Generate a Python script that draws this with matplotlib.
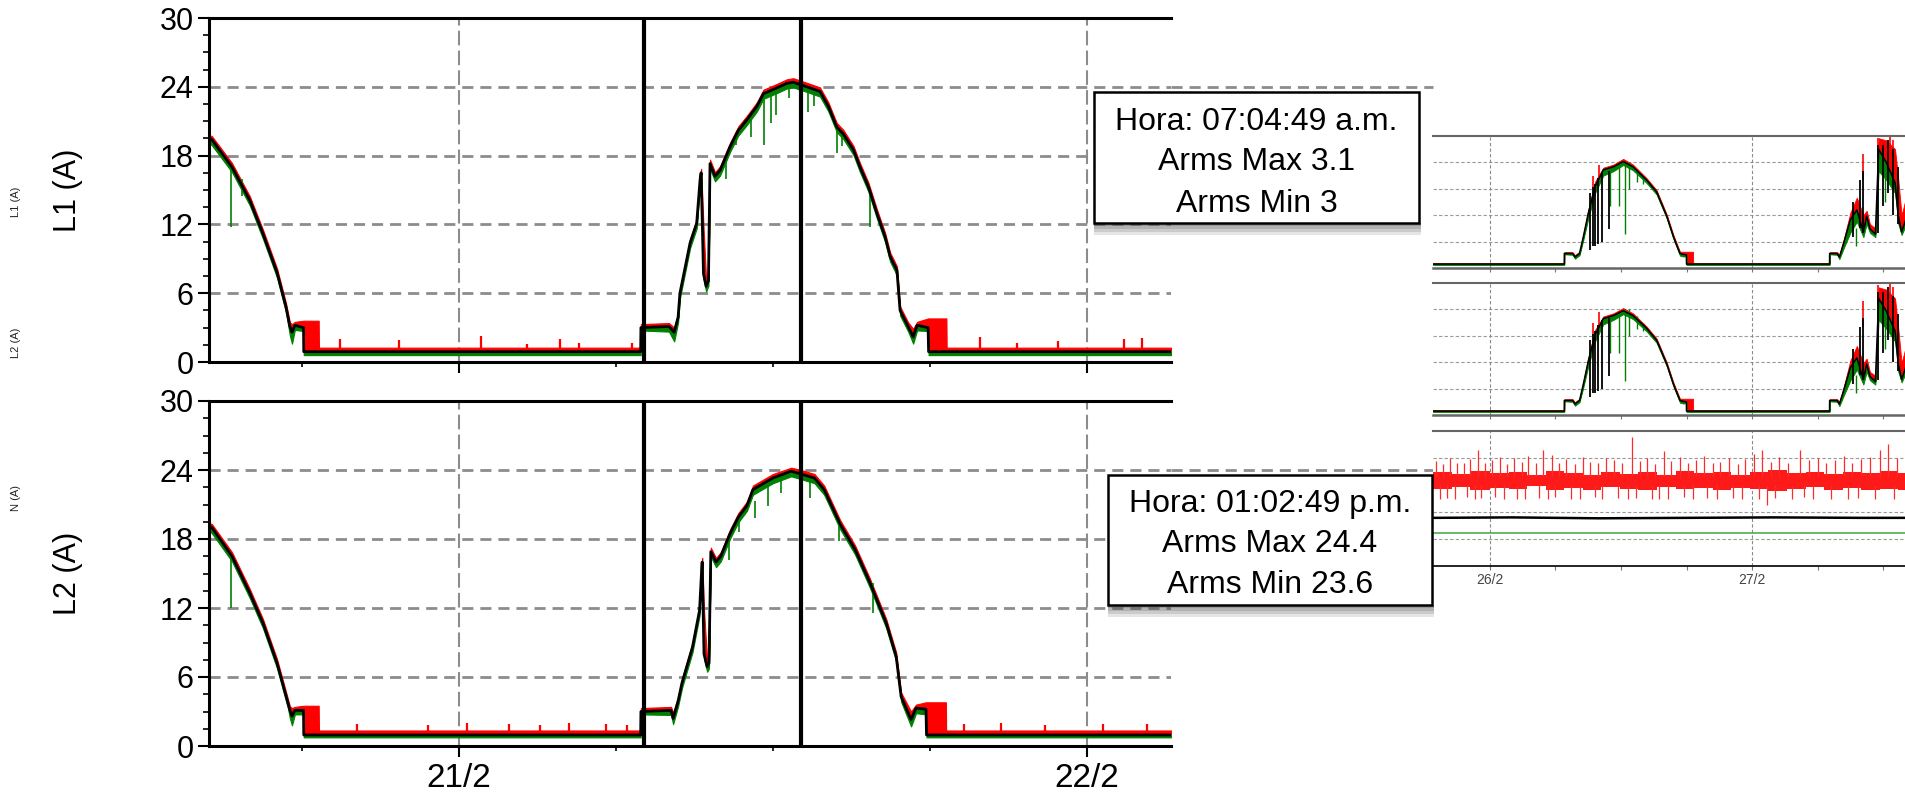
import numpy as np
import matplotlib
matplotlib.use('Agg')
import matplotlib.pyplot as plt
from matplotlib.patches import Rectangle

plt.rcParams['font.family'] = ['Liberation Sans', 'DejaVu Sans']

# ---- main view: hours relative to 21/2 00:00 ----
day_ticks = [0, 24]
day_labels = ['21/2', '22/2']
cursor_h = [7 + 4 / 60 + 49 / 3600, 13 + 2 / 60 + 49 / 3600]

l1_h = [-9.55, -9.44, -8.67, -7.99, -7.49, -6.95, -6.61, -6.46, -6.38, -6.27,
        -5.94, -5.93, -5.36, -5.35, 6.94, 6.95, 8.02, 8.22, 8.37, 8.44,
        8.83, 9.08, 9.21, 9.25, 9.34, 9.44, 9.53, 9.59, 9.78, 9.97,
        10.36, 10.67, 10.99, 11.38, 11.63, 12.14, 12.52, 12.77, 13.29, 13.79,
        14.11, 14.43, 14.68, 15.07, 15.32, 15.64, 15.96, 16.28, 16.47, 16.73,
        16.85, 17.16, 17.35, 17.50, 17.92, 17.94, 18.62, 18.63, 27.2]
l1_avg = [19.5, 19.4, 17.0, 14.1, 11.2, 7.8, 4.8, 3.1, 2.6, 3.2,
          3.0, 0.9, 0.9, 0.9, 0.9, 3.0, 3.1, 2.6, 3.9, 6.0,
          10.4, 12.1, 15.9, 16.5, 7.7, 6.6, 7.1, 17.3, 16.2, 16.7,
          18.8, 20.2, 21.1, 22.3, 23.4, 23.9, 24.3, 24.4, 24.0, 23.6,
          22.3, 20.5, 19.9, 18.5, 17.0, 15.3, 13.0, 10.9, 9.2, 8.0,
          4.5, 3.1, 2.2, 3.2, 3.0, 0.9, 0.9, 0.9, 0.9]
l1_max = [19.8, 19.7, 17.35, 14.45, 11.55, 8.15, 5.15, 3.45, 3.3, 3.5,
          3.6, 3.6, 3.6, 1.25, 1.25, 3.3, 3.4, 3.0, 4.25, 6.35,
          10.75, 12.45, 16.25, 16.85, 11.8, 7.2, 7.8, 17.65, 16.55, 17.05,
          19.15, 20.55, 21.45, 22.65, 23.75, 24.25, 24.65, 24.75, 24.35, 23.95,
          22.65, 20.85, 20.25, 18.85, 17.35, 15.65, 13.35, 11.25, 9.55, 8.35,
          4.85, 3.45, 2.9, 3.5, 3.8, 3.8, 3.8, 1.25, 1.25]
l1_min = [19.1, 18.9, 16.55, 13.65, 10.75, 7.35, 4.35, 2.3, 1.6, 2.8,
          2.7, 0.6, 0.6, 0.6, 0.6, 2.75, 2.65, 1.8, 3.45, 5.55,
          9.95, 11.65, 15.45, 16.05, 7.25, 6.15, 6.65, 16.85, 15.75, 16.25,
          18.35, 19.75, 20.65, 21.85, 22.95, 23.45, 23.85, 23.95, 23.55, 23.15,
          21.85, 20.05, 19.45, 18.05, 16.55, 14.85, 12.55, 10.45, 8.75, 7.55,
          4.05, 2.65, 1.6, 2.75, 2.7, 0.6, 0.6, 0.6, 0.6]
l1_grn_h = [-8.71, -8.3, 10.2, 10.6, 11.15, 11.65, 11.92, 12.1, 12.6, 13.35, 13.55, 14.45, 14.62, 15.72]
l1_grn_lo = [11.8, 14.5, 16.0, 18.9, 19.6, 18.9, 20.8, 21.5, 23.0, 21.8, 22.3, 18.2, 18.8, 11.8]
l1_grn_hi = [16.9, 16.0, 17.6, 20.0, 21.5, 23.2, 23.6, 23.8, 24.2, 23.9, 23.7, 20.5, 20.0, 14.8]
l1_red_h = [-4.55, -2.3, 0.83, 2.6, 3.86, 4.6, 6.6, 19.9, 21.3, 22.9, 25.4, 26.1]
l1_red_hi = [2.0, 1.9, 2.3, 1.6, 2.0, 1.7, 1.7, 2.2, 1.7, 1.8, 2.0, 2.1]

l2_h = [-9.55, -9.44, -8.67, -7.99, -7.49, -6.95, -6.53, -6.46, -6.38, -6.27,
        -5.94, -5.93, -5.36, -5.35, 6.94, 6.95, 8.10, 8.18, 8.37, 8.52,
        8.92, 9.19, 9.27, 9.29, 9.36, 9.48, 9.55, 9.62, 9.82, 10.00,
        10.36, 10.67, 11.00, 11.23, 11.99, 12.69, 13.00, 13.58, 13.95, 14.56,
        15.13, 15.70, 16.32, 16.70, 16.89, 17.27, 17.46, 17.84, 17.86, 18.60,
        18.61, 27.2]
l2_avg = [19.1, 19.0, 16.5, 13.3, 10.7, 7.2, 3.7, 3.1, 2.6, 3.1,
          3.1, 0.96, 0.96, 0.96, 0.96, 3.0, 3.1, 2.4, 3.9, 5.5,
          8.6, 11.8, 15.3, 16.0, 8.0, 6.9, 7.2, 16.9, 16.0, 16.5,
          18.5, 19.9, 20.9, 22.3, 23.3, 23.9, 23.7, 23.3, 22.3, 19.3,
          17.1, 14.2, 10.7, 7.8, 4.3, 2.3, 3.3, 3.2, 0.96, 0.96,
          0.96, 0.96]
l2_max = [19.4, 19.3, 16.85, 13.65, 11.05, 7.55, 4.05, 3.45, 3.3, 3.4,
          3.5, 3.5, 3.5, 1.35, 1.35, 3.3, 3.4, 2.9, 4.25, 5.85,
          8.95, 12.15, 15.65, 16.35, 11.8, 7.4, 7.8, 17.25, 16.35, 16.85,
          18.85, 20.25, 21.25, 22.65, 23.65, 24.2, 24.05, 23.65, 22.65, 19.65,
          17.45, 14.55, 11.05, 8.15, 4.65, 3.0, 3.6, 3.8, 3.8, 3.8,
          1.35, 1.35]
l2_min = [18.7, 18.5, 16.05, 12.85, 10.25, 6.75, 3.25, 2.4, 1.8, 2.75,
          2.75, 0.75, 0.75, 0.75, 0.75, 2.75, 2.7, 1.9, 3.45, 5.05,
          8.15, 11.35, 14.85, 15.55, 7.55, 6.45, 6.75, 16.45, 15.55, 16.05,
          18.05, 19.45, 20.45, 21.85, 22.85, 23.45, 23.25, 22.85, 21.85, 18.85,
          16.65, 13.75, 10.25, 7.35, 3.85, 1.7, 2.85, 2.75, 0.75, 0.75,
          0.75, 0.75]
l2_grn_h = [-8.71, 10.3, 10.7, 11.3, 11.8, 12.3, 13.4, 14.5, 15.8]
l2_grn_lo = [12.0, 16.2, 18.6, 19.8, 20.9, 22.0, 21.6, 17.8, 11.6]
l2_grn_hi = [16.5, 18.2, 19.8, 21.3, 23.0, 23.5, 23.5, 19.8, 14.2]
l2_red_h = [-3.9, -1.2, 0.3, 1.9, 3.1, 4.2, 5.6, 6.4, 19.3, 20.7, 22.4, 24.6, 26.3]
l2_red_hi = [1.9, 1.8, 2.0, 1.9, 1.8, 2.0, 1.9, 1.8, 1.9, 2.0, 1.8, 1.9, 1.9]

# ---- overview panel: hours relative to 26/2 00:00 ----
r_day_labels = ['26/2', '27/2']
r_h = [-5.22, 6.8, 6.81, 7.57, 7.78, 8.2, 8.55, 9.0, 9.62, 10.38,
       11.3, 12.2, 13.1, 14.35, 15.26, 16.2, 16.8, 17.4, 17.7, 17.99,
       18.0, 18.6, 18.61, 31.1, 31.11, 31.8, 32.0, 32.4, 33.0, 33.6,
       34.2, 34.5, 34.8, 35.3, 35.6, 36.3, 37.1, 37.4, 37.7, 38.5, 43.0]
r1_avg = [0.9, 0.9, 3.3, 3.3, 2.5, 3.3, 7.1, 12.4, 18.5, 22.3,
          23.0, 24.2, 23.0, 20.0, 17.3, 11.7, 7.1, 3.3, 3.1, 3.0,
          0.9, 0.9, 0.9, 0.9, 3.3, 3.3, 2.5, 5.7, 10.9, 13.2,
          8.2, 11.8, 8.9, 7.7, 27.0, 24.0, 19.4, 11.8, 8.2, 14.0, 14.0]
r1_max = [1.1, 1.1, 3.6, 3.6, 2.9, 3.7, 7.6, 13.2, 19.6, 22.8,
          23.5, 24.8, 23.5, 20.4, 17.7, 12.1, 7.5, 3.7, 3.7, 3.7,
          3.7, 3.7, 1.1, 1.1, 3.6, 3.6, 2.9, 6.5, 12.5, 16.0,
          12.0, 13.0, 10.0, 9.0, 29.5, 29.0, 27.0, 20.0, 12.0, 20.0, 20.0]
r1_min = [0.7, 0.7, 3.1, 3.0, 2.1, 2.9, 6.4, 11.2, 17.0, 21.0,
          22.0, 23.4, 22.2, 19.3, 16.7, 11.2, 6.6, 2.8, 2.6, 2.7,
          0.7, 0.7, 0.7, 0.7, 3.1, 3.0, 2.0, 4.5, 8.0, 10.5,
          7.0, 10.0, 8.0, 7.0, 22.0, 20.0, 17.0, 10.0, 7.5, 12.0, 12.0]
r2_avg = [0.9, 0.9, 3.3, 3.3, 2.5, 3.3, 7.0, 12.2, 18.2, 21.9,
          22.6, 23.7, 22.6, 19.7, 17.0, 11.5, 7.0, 3.3, 3.1, 3.0,
          0.9, 0.9, 0.9, 0.9, 3.3, 3.3, 2.5, 5.6, 10.7, 13.0,
          8.1, 11.6, 8.8, 7.6, 26.5, 23.6, 19.1, 11.6, 8.1, 13.8, 13.8]
r2_max = [1.1, 1.1, 3.6, 3.6, 2.9, 3.7, 7.5, 13.0, 19.3, 22.4,
          23.1, 24.3, 23.1, 20.1, 17.4, 11.9, 7.4, 3.7, 3.7, 3.7,
          3.7, 3.7, 1.1, 1.1, 3.6, 3.6, 2.9, 6.4, 12.3, 15.7,
          11.8, 12.8, 9.8, 8.9, 29.0, 28.5, 26.5, 19.6, 11.8, 19.6, 19.6]
r2_min = [0.7, 0.7, 3.1, 3.0, 2.1, 2.9, 6.3, 11.0, 16.7, 20.6,
          21.6, 22.9, 21.8, 19.0, 16.4, 11.0, 6.5, 2.8, 2.6, 2.7,
          0.7, 0.7, 0.7, 0.7, 3.1, 3.0, 2.0, 4.4, 7.8, 10.3,
          6.9, 9.8, 7.9, 6.9, 21.6, 19.6, 16.7, 9.8, 7.4, 11.8, 11.8]
r_blk_h = [9.16, 9.4, 9.62, 9.92, 10.23, 10.93, 33.27, 33.9, 34.2, 35.57, 36.0, 36.5, 36.95, 37.4]
r_blk_lo = [4.0, 5.0, 5.0, 5.5, 6.0, 8.8, 7.0, 9.0, 8.0, 8.0, 14.0, 17.0, 12.0, 10.0]
r_blk_hi = [17.0, 18.5, 19.0, 20.5, 21.5, 22.0, 15.0, 20.0, 22.0, 28.0, 28.0, 29.0, 27.0, 23.0]
r_red_h = [9.46, 10.0, 34.2, 35.5, 36.6, 36.9]
r_red_lo = [18.0, 20.0, 20.0, 25.0, 25.0, 24.0]
r_red_hi = [21.0, 23.5, 26.0, 29.5, 29.8, 29.0]
r_grn_h = [11.0, 11.8, 12.37, 12.7, 13.5, 14.0, 33.5, 36.2]
r_grn_lo = [14.0, 14.0, 7.8, 18.0, 19.5, 19.0, 5.0, 15.0]
r_grn_hi = [22.5, 23.0, 24.0, 24.0, 22.5, 21.0, 9.0, 22.0]

n_band_h = [-5.22, -3.5, -1.8, 0.0, 1.7, 3.4, 5.1, 6.8, 8.5, 10.2, 11.9, 13.6, 15.3, 17.0,
            18.7, 20.4, 22.1, 23.8, 25.5, 27.2, 28.9, 30.6, 32.3, 34.0, 35.7, 37.4, 43.0]
n_band_hi = [20.8, 20.4, 21.1, 20.6, 20.9, 20.3, 21.2, 20.7, 20.2, 21.0, 20.5, 20.9, 20.3, 21.1,
             20.6, 20.8, 20.2, 20.9, 21.4, 20.7, 21.0, 20.4, 20.9, 20.6, 21.2, 20.7, 20.7]
n_band_lo = [17.2, 17.6, 16.9, 17.4, 17.1, 17.7, 17.0, 17.3, 16.8, 17.5, 17.2, 16.9, 17.6, 17.1,
             17.4, 16.9, 17.3, 17.1, 16.6, 17.2, 17.5, 17.0, 17.3, 16.8, 17.1, 16.9, 16.9]
n_up_h = [-4.9, -4.3, -3.7, -3.0, -2.4, -1.8, -1.1, -0.5, 0.2, 0.9,
          1.6, 2.2, 2.9, 3.5, 4.2, 4.9, 5.7, 6.3, 7.0, 7.8,
          8.5, 9.2, 9.9, 10.6, 11.4, 12.1, 13.0, 13.7, 14.4, 15.1,
          15.9, 16.6, 17.4, 18.1, 18.9, 19.6, 20.4, 21.1, 21.9, 22.7,
          23.4, 24.2, 24.9, 25.7, 26.5, 27.3, 28.4, 29.2, 30.0, 30.8,
          31.6, 32.4, 33.2, 34.0, 34.8, 35.7, 36.5, 37.3, 38.1]
n_up_v = [23.4, 22.6, 24.1, 23.0, 22.8, 23.7, 25.8, 22.9, 23.5, 24.2,
          22.7, 23.9, 23.1, 24.4, 22.8, 25.8, 24.6, 23.0, 23.8, 22.6,
          24.3, 23.2, 22.9, 24.0, 23.5, 22.8, 28.7, 23.4, 24.1, 22.7,
          25.6, 23.3, 24.2, 22.9, 23.6, 24.5, 22.8, 23.2, 24.0, 22.6,
          23.7, 24.9, 25.8, 23.1, 24.3, 22.8, 25.7, 23.5, 24.0, 22.9,
          23.6, 24.4, 23.0, 23.8, 24.2, 25.7, 27.1, 23.9, 24.6]
n_dn_h = [-4.6, -3.9, -3.2, -2.1, -1.4, -0.8, 0.5, 1.3, 2.5, 3.2,
          4.5, 5.3, 6.0, 7.4, 8.2, 9.6, 10.3, 11.7, 12.6, 13.4,
          14.8, 15.5, 16.3, 17.8, 18.6, 19.9, 20.8, 22.3, 23.1, 24.6,
          25.4, 26.1, 27.7, 28.8, 29.6, 31.2, 32.8, 33.7, 35.3, 37.0]
n_dn_v = [14.8, 15.2, 14.9, 15.4, 14.8, 15.1, 15.3, 14.8, 15.0, 14.9,
          15.2, 14.8, 15.4, 15.0, 14.8, 15.3, 14.9, 15.1, 14.8, 15.2,
          14.9, 15.0, 14.8, 15.3, 14.9, 15.1, 14.8, 15.2, 15.0, 14.9,
          13.6, 15.1, 14.8, 15.3, 14.9, 15.0, 14.8, 15.2, 14.9, 14.8]
n_blk_h = [-5.22, 2.0, 10.0, 18.0, 26.0, 34.0, 43.0]
n_blk_v = [10.7, 10.8, 10.6, 10.7, 10.8, 10.7, 10.7]
n_grn_h = [-5.22, 43.0]
n_grn_v = [7.3, 7.3]

box1_lines = ['Hora: 07:04:49 a.m.', 'Arms Max 3.1', 'Arms Min 3']
box2_lines = ['Hora: 01:02:49 p.m.', 'Arms Max 24.4', 'Arms Min 23.6']

RED, GRN, GRAY = '#ff0000', '#008000', '#8c8c8c'
W, H = 1905, 792
fig = plt.figure(figsize=(W / 100, H / 100), dpi=100)


def px_box(l, t, r, b):
    return [l / W, 1 - b / H, (r - l) / W, (b - t) / H]


def draw_main(ax, h, avg, mx, mn, red_h, red_hi, grn_h, grn_lo, grn_hi, base, show_x):
    ax.set_xlim(-9.55, 27.2)
    ax.set_ylim(0, 30)
    for v in (6, 12, 18, 24):
        ax.axhline(v, color=GRAY, lw=2, dashes=(4, 2.5), zorder=1)
    for v in day_ticks:
        ax.axvline(v, color=GRAY, lw=1.5, dashes=(7, 2.5), zorder=1)
    # the 24 A grid line runs on under the info box
    ax.plot([27.2, 37.2], [24, 24], color=GRAY, lw=2, dashes=(4, 2.5), clip_on=False)
    ax.fill_between(h, avg, mx, color=RED, lw=0.8, zorder=2)
    ax.fill_between(h, mn, avg, color=GRN, lw=0.8, zorder=2)
    ax.vlines(red_h, base, red_hi, color=RED, lw=1.6, zorder=2)
    ax.vlines(grn_h, grn_lo, grn_hi, color=GRN, lw=1.2, zorder=2)
    ax.plot(h, avg, color='black', lw=2.0, zorder=3)
    for c in cursor_h:
        ax.axvline(c, color='black', lw=3, zorder=4)
    ax.spines['right'].set_visible(False)
    for s in ('left', 'top', 'bottom'):
        ax.spines[s].set_linewidth(2.2)
        ax.spines[s].set_color('black')
    ax.set_yticks(range(0, 31, 6))
    ax.set_yticks(np.arange(0, 30.1, 1.5), minor=True)
    ax.tick_params(axis='y', which='major', length=8, width=1.5, pad=3, labelsize=22)
    ax.tick_params(axis='y', which='minor', length=4, width=1.2)
    ax.set_xticks(day_ticks)
    ax.set_xticks([-6, 6, 12, 18], minor=True)
    ax.tick_params(axis='x', which='major', length=8, width=1.5, pad=4, labelsize=24)
    ax.tick_params(axis='x', which='minor', length=3.6, width=1.2)
    if show_x:
        ax.set_xticklabels(day_labels)
    else:
        ax.set_xticklabels([])


def draw_right(ax, show_x):
    ax.set_xlim(-5.22, 43.05)
    ax.set_ylim(0, 30)
    for v in (6, 12, 18, 24):
        ax.axhline(v, color='#9a9a9a', lw=0.8, dashes=(3, 2), zorder=1)
    for v in day_ticks:
        ax.axvline(v, color='#8a8a8a', lw=0.8, dashes=(3, 2), zorder=1)
    ax.spines['left'].set_visible(False)
    ax.spines['right'].set_visible(False)
    ax.spines['top'].set_color('#666666')
    ax.spines['top'].set_linewidth(1.5)
    ax.spines['bottom'].set_color('black' if show_x else '#666666')
    ax.spines['bottom'].set_linewidth(1.2 if show_x else 1.8)
    ax.set_yticks([])
    ax.set_xticks(day_ticks)
    ax.set_xticks([6, 12, 18, 30, 36, 42], minor=True)
    ax.tick_params(axis='x', which='both', length=3, width=0.8, colors='#777777',
                   labelcolor='#444444', labelsize=10, pad=2)
    ax.set_xticklabels(r_day_labels if show_x else [])


def draw_phase(ax, avg, mx, mn):
    ax.fill_between(r_h, avg, mx, color=RED, lw=0.6, zorder=2)
    ax.fill_between(r_h, mn, avg, color=GRN, lw=0.6, zorder=2)
    ax.vlines(r_grn_h, r_grn_lo, r_grn_hi, color=GRN, lw=1, zorder=2)
    ax.vlines(r_red_h, r_red_lo, r_red_hi, color=RED, lw=1.2, zorder=2)
    ax.vlines(r_blk_h, r_blk_lo, r_blk_hi, color='black', lw=1.3, zorder=3)
    ax.plot(r_h, avg, color='black', lw=1.1, zorder=3)


ax_u = fig.add_axes(px_box(209, 18, 1171, 362))
ax_l = fig.add_axes(px_box(209, 401, 1171, 746))
draw_main(ax_u, l1_h, l1_avg, l1_max, l1_min, l1_red_h, l1_red_hi,
          l1_grn_h, l1_grn_lo, l1_grn_hi, 1.1, False)
draw_main(ax_l, l2_h, l2_avg, l2_max, l2_min, l2_red_h, l2_red_hi,
          l2_grn_h, l2_grn_lo, l2_grn_hi, 1.2, True)

ax_r1 = fig.add_axes(px_box(1433, 136, 1960, 268))
ax_r2 = fig.add_axes(px_box(1433, 283, 1960, 415))
ax_r3 = fig.add_axes(px_box(1433, 431, 1960, 566))
draw_right(ax_r1, False)
draw_right(ax_r2, False)
draw_right(ax_r3, True)
draw_phase(ax_r1, r1_avg, r1_max, r1_min)
draw_phase(ax_r2, r2_avg, r2_max, r2_min)

ax_r3.fill_between(n_band_h, n_band_lo, n_band_hi, step='post', color='#ff1a1a', lw=0, zorder=2)
ax_r3.vlines(n_up_h, 20.0, n_up_v, color='#ff2a2a', lw=0.9, zorder=2)
ax_r3.vlines(n_dn_h, n_dn_v, 18.0, color='#ff2a2a', lw=0.9, zorder=2)
ax_r3.plot(n_blk_h, n_blk_v, color='black', lw=1.8, zorder=3)
ax_r3.plot(n_grn_h, n_grn_v, color='#4caf50', lw=1.2, zorder=3)

# axis names
fig.text(68 / W, 1 - 190 / H, 'L1 (A)', rotation=90, fontsize=22, ha='center', va='center')
fig.text(68 / W, 1 - 573 / H, 'L2 (A)', rotation=90, fontsize=22, ha='center', va='center')
for name, ypx in (('L1 (A)', 202), ('L2 (A)', 343), ('N (A)', 498)):
    fig.text(16 / W, 1 - ypx / H, name, rotation=90, fontsize=8, ha='center',
             va='center', color='#222222')


def info_box(l, t, r, b, lines, baselines):
    for i, a in enumerate([0.6, 0.45, 0.3, 0.15]):
        fig.add_artist(Rectangle((l / W, 1 - (b + 3 * (i + 1)) / H), (r - l + 2) / W, 3 / H,
                                 transform=fig.transFigure, facecolor='#555555',
                                 edgecolor='none', alpha=a, zorder=19))
    fig.add_artist(Rectangle((l / W, 1 - b / H), (r - l) / W, (b - t) / H,
                             transform=fig.transFigure, facecolor='white',
                             edgecolor='black', lw=1.8, zorder=20))
    for txt, yb in zip(lines, baselines):
        fig.text((l + r) / 2 / W, 1 - yb / H, txt, fontsize=23, ha='center',
                 va='baseline', zorder=21)


info_box(1094, 92, 1419, 223, box1_lines, [130, 170, 212])
info_box(1108, 475, 1432, 605, box2_lines, [512, 552, 593])

fig.savefig('out.png', dpi=100)
